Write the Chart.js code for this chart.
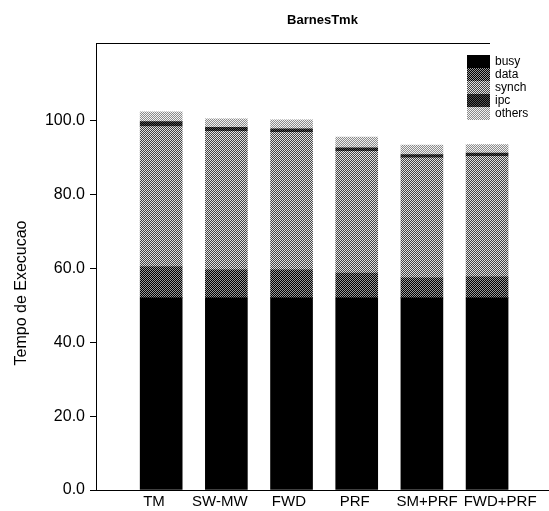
<!DOCTYPE html>
<html>
<head>
<meta charset="utf-8">
<script src="https://cdn.jsdelivr.net/npm/chart.js@4/dist/chart.umd.min.js"></script>
<style>
  html, body { margin: 0; padding: 0; background: #fff; }
</style>
</head>
<body>
<canvas id="chart" width="549" height="511"></canvas>
<script>
// Values (execution time, stacked)
const categories = ['TM', 'SW-MW', 'FWD', 'PRF', 'SM+PRF', 'FWD+PRF'];
const busyVals   = [52.0, 52.0, 52.0, 52.0, 52.0, 52.0];
const dataVals   = [8.5, 7.7, 7.7, 6.7, 5.4, 5.7];
const synchVals  = [37.9, 37.4, 37.1, 33.0, 32.5, 32.6];
const ipcVals    = [1.3, 1.1, 1.0, 0.9, 0.9, 0.9];
const othersVals = [2.7, 2.3, 2.4, 2.9, 2.6, 2.3];
const yTicks = [0, 20, 40, 60, 80, 100];

const FONT = "'Liberation Sans', Arial, Helvetica, sans-serif";
// the original category labels are not quite centred under their bars
const LABEL_NUDGE = [-0.11, -0.10, -0.04, -0.03, 0.08, 0.20];

const canvas = document.getElementById('chart');
const ctx = canvas.getContext('2d');

// small checker patterns to look like the scanned halftones
function checker(a, b) {
    const c = document.createElement('canvas');
    c.width = 2; c.height = 2;
    const g = c.getContext('2d');
    g.fillStyle = a; g.fillRect(0, 0, 2, 2);
    g.fillStyle = b; g.fillRect(0, 0, 1, 1); g.fillRect(1, 1, 1, 1);
    return ctx.createPattern(c, 'repeat');
}

const series = [
    { label: 'busy',   values: busyVals,   fill: '#000000' },
    { label: 'data',   values: dataVals,   fill: checker('#000000', '#9a9a9a') },
    { label: 'synch',  values: synchVals,  fill: checker('#444444', '#e2e2e2') },
    { label: 'ipc',    values: ipcVals,    fill: checker('#000000', '#555555') },
    { label: 'others', values: othersVals, fill: checker('#8a8a8a', '#f2f2f2') }
];

// title, rotated y label, top frame line and legend box
const decor = {
    id: 'decor',
    afterDraw(chart) {
        const c = chart.ctx;
        const area = chart.chartArea;
        c.save();
        c.fillStyle = '#000';

        c.font = 'bold 13px ' + FONT;
        c.textAlign = 'center';
        c.textBaseline = 'middle';
        c.fillText('BarnesTmk', (area.left + area.right) / 2, 20);

        c.save();
        c.translate(22, 293);
        c.rotate(-Math.PI / 2);
        c.font = '16px ' + FONT;
        c.fillText('Tempo de Execucao', 0, 0);
        c.restore();

        c.strokeStyle = '#000';
        c.lineWidth = 1;
        c.beginPath();
        c.moveTo(area.left, area.top + 0.5);
        c.lineTo(490, area.top + 0.5);
        c.stroke();

        // legend
        c.font = '12px ' + FONT;
        c.textAlign = 'left';
        chart.data.datasets.forEach((ds, i) => {
            const y = 55 + i * 13;
            c.fillStyle = ds.backgroundColor;
            c.fillRect(467, y, 23, 13);
            c.fillStyle = '#000';
            c.fillText(ds.label, 495, y + 6.5);
        });
        c.restore();
    }
};

new Chart(ctx, {
    type: 'bar',
    data: {
        datasets: series.map(s => ({
            label: s.label,
            data: s.values.map((v, i) => ({ x: i + 1, y: v })),
            backgroundColor: s.fill,
            borderWidth: 0,
            barThickness: 42
        }))
    },
    options: {
        responsive: false,
        animation: false,
        layout: { padding: { top: 43, left: 0, right: 0, bottom: 0 } },
        plugins: {
            legend: { display: false },
            title: { display: false },
            tooltip: { enabled: false }
        },
        scales: {
            x: {
                type: 'linear',
                stacked: true,
                offset: false,
                min: 0,
                max: 6.95,
                grid: { display: false, drawTicks: false },
                border: { display: true, color: '#000', width: 1 },
                afterBuildTicks: scale => {
                    scale.ticks = categories.map((c, i) => ({ value: i + 1 + LABEL_NUDGE[i] }));
                },
                afterFit: scale => { scale.height = 21; },
                ticks: {
                    color: '#000',
                    font: { family: FONT, size: 15 },
                    padding: 3,
                    maxRotation: 0,
                    autoSkip: false,
                    callback: (v, i) => categories[i] || ''
                }
            },
            y: {
                stacked: true,
                min: 0,
                max: 121,
                grid: { drawOnChartArea: false, drawTicks: true, tickLength: 6, color: '#000' },
                border: { display: true, color: '#000', width: 1 },
                afterBuildTicks: scale => {
                    scale.ticks = yTicks.map(v => ({ value: v }));
                },
                afterFit: scale => { scale.width = 96; },
                ticks: {
                    color: '#000',
                    font: { family: FONT, size: 16 },
                    padding: 5,
                    callback: v => Number(v).toFixed(1)
                }
            }
        }
    },
    plugins: [decor]
});
</script>
</body>
</html>
